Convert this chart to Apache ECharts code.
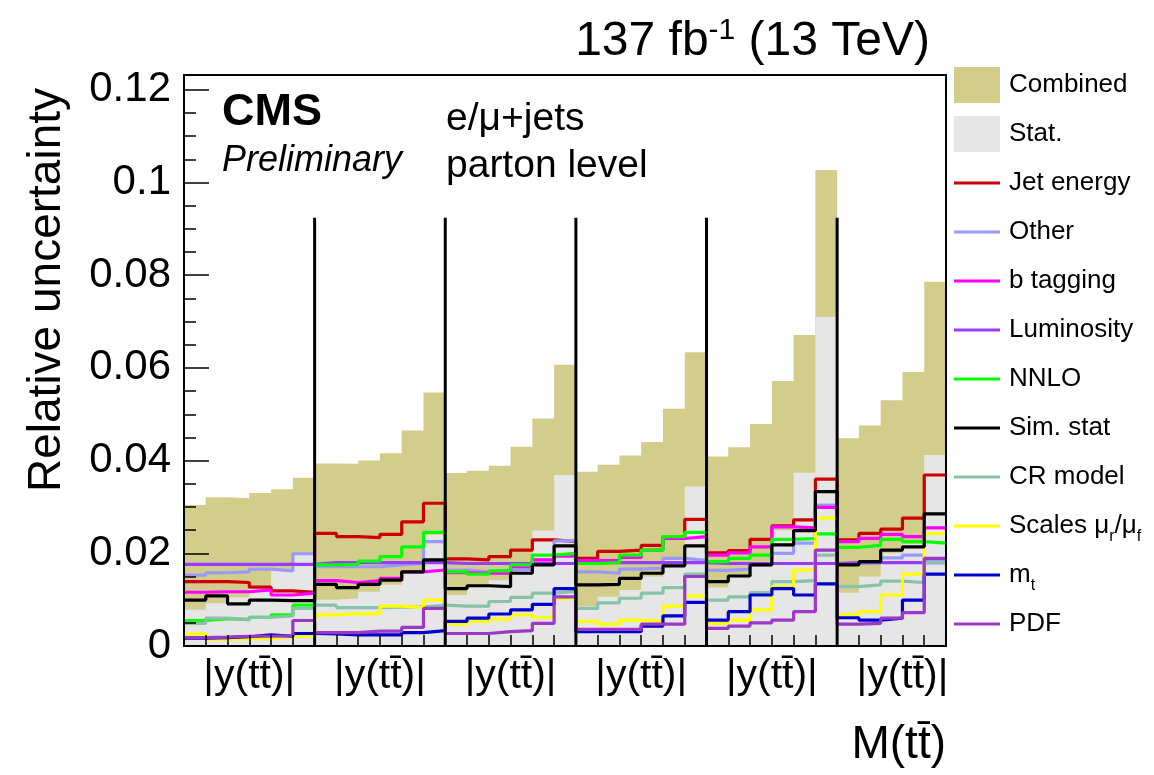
<!DOCTYPE html>
<html>
<head>
<meta charset="utf-8">
<script src="https://cdn.jsdelivr.net/npm/echarts@6/dist/echarts.min.js"></script>
<style>
  html, body { margin: 0; padding: 0; background: #fff; }
  #chart { width: 1154px; height: 775px; }
</style>
</head>
<body>
<div id="chart"></div>
<script>
// Relative uncertainty breakdown, 6 M(tt) slices x |y(tt)| bins (35 bins in total)
const panelLabel = '|y(tt\u0304)|';
const panelLabelPos = [3, 9, 15, 21, 27, 33];
const separators = [6, 12, 18, 24, 30];
const separatorTop = 0.0924;
const yMajorTicks = [0, 0.02, 0.04, 0.06, 0.08, 0.1, 0.12];
const yMinorTicks = [0.005, 0.01, 0.015, 0.025, 0.03, 0.035, 0.045, 0.05, 0.055,
  0.065, 0.07, 0.075, 0.085, 0.09, 0.095, 0.105, 0.11, 0.115];
const binEdges = [1, 2, 3, 4, 5, 7, 8, 9, 10, 11, 13, 14, 15, 16, 17, 19, 20, 21, 22, 23,
  25, 26, 27, 28, 29, 31, 32, 33, 34];

const combined = [
  0.0304, 0.0321, 0.0319, 0.0330, 0.0338, 0.0363,
  0.0394, 0.0393, 0.0400, 0.0416, 0.0465, 0.0547,
  0.0373, 0.0378, 0.0389, 0.0430, 0.0491, 0.0607,
  0.0376, 0.0391, 0.0411, 0.0440, 0.0512, 0.0634,
  0.0409, 0.0429, 0.0479, 0.0572, 0.0671, 0.1027,
  0.0448, 0.0476, 0.0530, 0.0591, 0.0786];
const stat = [
  0.0078, 0.0092, 0.0105, 0.0125, 0.0164, 0.0200,
  0.0100, 0.0103, 0.0117, 0.0132, 0.0160, 0.0240,
  0.0110, 0.0130, 0.0142, 0.0165, 0.0249, 0.0369,
  0.0086, 0.0106, 0.0121, 0.0150, 0.0190, 0.0344,
  0.0126, 0.0153, 0.0175, 0.0250, 0.0374, 0.0710,
  0.0115, 0.0150, 0.0200, 0.0220, 0.0412];
const jetEnergy = [
  0.0139, 0.0139, 0.0137, 0.0127, 0.0119, 0.0116,
  0.0243, 0.0236, 0.0234, 0.0241, 0.0268, 0.0308,
  0.0188, 0.0186, 0.0193, 0.0207, 0.0229, 0.0225,
  0.0189, 0.0204, 0.0207, 0.0217, 0.0236, 0.0273,
  0.0201, 0.0206, 0.0230, 0.0259, 0.0272, 0.0360,
  0.0229, 0.0243, 0.0252, 0.0276, 0.0369];
const other = [
  0.0153, 0.0158, 0.0160, 0.0166, 0.0162, 0.0199,
  0.0171, 0.0171, 0.0171, 0.0175, 0.0178, 0.0225,
  0.0164, 0.0160, 0.0164, 0.0165, 0.0186, 0.0227,
  0.0160, 0.0157, 0.0166, 0.0168, 0.0189, 0.0185,
  0.0163, 0.0166, 0.0175, 0.0200, 0.0222, 0.0304,
  0.0178, 0.0180, 0.0190, 0.0196, 0.0183];
const bTagging = [
  0.0116, 0.0117, 0.0117, 0.0121, 0.0110, 0.0114,
  0.0141, 0.0137, 0.0141, 0.0146, 0.0160, 0.0164,
  0.0158, 0.0157, 0.0157, 0.0171, 0.0186, 0.0194,
  0.0184, 0.0184, 0.0191, 0.0207, 0.0232, 0.0236,
  0.0196, 0.0201, 0.0214, 0.0257, 0.0255, 0.0299,
  0.0225, 0.0232, 0.0241, 0.0236, 0.0255];
const luminosity = [
  0.0176, 0.0176, 0.0176, 0.0176, 0.0176, 0.0176,
  0.0180, 0.0180, 0.0180, 0.0180, 0.0180, 0.0180,
  0.0178, 0.0178, 0.0178, 0.0178, 0.0178, 0.0178,
  0.0180, 0.0180, 0.0180, 0.0180, 0.0180, 0.0180,
  0.0178, 0.0178, 0.0178, 0.0178, 0.0178, 0.0178,
  0.0180, 0.0180, 0.0180, 0.0180, 0.0180];
const nnlo = [
  0.0055, 0.0059, 0.0057, 0.0062, 0.0067, 0.0088,
  0.0175, 0.0176, 0.0183, 0.0193, 0.0214, 0.0245,
  0.0160, 0.0155, 0.0162, 0.0175, 0.0196, 0.0200,
  0.0178, 0.0180, 0.0196, 0.0207, 0.0236, 0.0245,
  0.0182, 0.0189, 0.0196, 0.0230, 0.0232, 0.0242,
  0.0213, 0.0217, 0.0230, 0.0225, 0.0222];
const simStat = [
  0.0099, 0.0108, 0.0091, 0.0099, 0.0098, 0.0098,
  0.0133, 0.0126, 0.0133, 0.0142, 0.0160, 0.0186,
  0.0124, 0.0130, 0.0128, 0.0157, 0.0175, 0.0216,
  0.0132, 0.0133, 0.0146, 0.0157, 0.0173, 0.0216,
  0.0139, 0.0151, 0.0175, 0.0218, 0.0249, 0.0333,
  0.0175, 0.0182, 0.0207, 0.0214, 0.0285];
const crModel = [
  0.0049, 0.0060, 0.0057, 0.0062, 0.0065, 0.0081,
  0.0088, 0.0083, 0.0083, 0.0084, 0.0084, 0.0088,
  0.0086, 0.0086, 0.0096, 0.0105, 0.0114, 0.0118,
  0.0081, 0.0093, 0.0103, 0.0114, 0.0126, 0.0155,
  0.0099, 0.0106, 0.0115, 0.0139, 0.0141, 0.0196,
  0.0128, 0.0132, 0.0140, 0.0137, 0.0180];
const scales = [
  0.0026, 0.0014, 0.0016, 0.0016, 0.0020, 0.0022,
  0.0067, 0.0070, 0.0070, 0.0086, 0.0083, 0.0099,
  0.0047, 0.0053, 0.0058, 0.0067, 0.0062, 0.0102,
  0.0053, 0.0047, 0.0056, 0.0053, 0.0086, 0.0108,
  0.0049, 0.0056, 0.0078, 0.0128, 0.0164, 0.0276,
  0.0068, 0.0074, 0.0110, 0.0155, 0.0243];
const mTop = [
  0.0017, 0.0018, 0.0020, 0.0024, 0.0021, 0.0027,
  0.0026, 0.0024, 0.0024, 0.0024, 0.0029, 0.0033,
  0.0053, 0.0060, 0.0069, 0.0078, 0.0090, 0.0124,
  0.0031, 0.0031, 0.0031, 0.0043, 0.0065, 0.0094,
  0.0056, 0.0074, 0.0110, 0.0124, 0.0110, 0.0134,
  0.0061, 0.0056, 0.0060, 0.0099, 0.0155];
const pdf = [
  0.0018, 0.0019, 0.0021, 0.0021, 0.0022, 0.0055,
  0.0029, 0.0029, 0.0032, 0.0032, 0.0040, 0.0081,
  0.0027, 0.0027, 0.0031, 0.0033, 0.0049, 0.0106,
  0.0036, 0.0036, 0.0036, 0.0047, 0.0047, 0.0150,
  0.0038, 0.0043, 0.0050, 0.0056, 0.0074, 0.0207,
  0.0047, 0.0049, 0.0060, 0.0072, 0.0189];

const FONT = '"Liberation Sans", Arial, Helvetica, sans-serif';
const X_MAX = combined.length;
const Y_MAX = 0.1232;

// histogram outline: each bin value held across [i, i+1)
function steps(vals) {
  const pts = vals.map((v, i) => [i, v]);
  pts.push([vals.length, vals[vals.length - 1]]);
  return pts;
}

const filled = [
  { name: 'Combined', values: combined, color: '#d3cd8b' },
  { name: 'Stat.', values: stat, color: '#e6e6e6' }
];
const lines = [
  { name: 'Jet energy', values: jetEnergy, color: '#cc0000' },
  { name: 'Other', values: other, color: '#9999ff' },
  { name: 'b tagging', values: bTagging, color: '#ff00ff' },
  { name: 'Luminosity', values: luminosity, color: '#9a3cff' },
  { name: 'NNLO', values: nnlo, color: '#00ff00' },
  { name: 'CR model', values: crModel, color: '#88c2a8' },
  { name: 'Scales', values: scales, color: '#ffff00' },
  { name: 'mt', values: mTop, color: '#0000cc' },
  { name: 'PDF', values: pdf, color: '#9b38c8' },
  { name: 'Sim. stat', values: simStat, color: '#000000' }
];
const legendOrder = ['Combined', 'Stat.', 'Jet energy', 'Other', 'b tagging', 'Luminosity',
  'NNLO', 'Sim. stat', 'CR model', 'Scales', 'mt', 'PDF'];
const lineIcon = 'path://M0,0H46V3H0Z';

const series = [];
filled.forEach(f => series.push({
  name: f.name, type: 'line', step: 'end', data: steps(f.values),
  showSymbol: false, symbol: 'none', z: 1, silent: true,
  color: f.color,
  itemStyle: { color: f.color },
  lineStyle: { width: 0, color: f.color },
  areaStyle: { color: f.color, opacity: 1, origin: 'start' }
}));
lines.forEach(l => series.push({
  name: l.name, type: 'line', step: 'end', data: steps(l.values),
  showSymbol: false, symbol: 'none', z: 2, silent: true,
  color: l.color,
  itemStyle: { color: l.color },
  lineStyle: { width: 3.2, color: l.color }
}));
// panel separators between the M(tt) slices
series.push({
  type: 'custom', z: 4, silent: true, clip: false,
  data: separators.map(x => [x, separatorTop]),
  renderItem: (params, api) => {
    const p0 = api.coord([api.value(0), 0]);
    const p1 = api.coord([api.value(0), api.value(1)]);
    return {
      type: 'line',
      shape: { x1: p0[0], y1: p0[1], x2: p1[0], y2: p1[1] },
      style: { stroke: '#000', lineWidth: 3 }
    };
  }
});

const legendText = {
  'Scales': '{n|Scales μ}{s|r}{n|/μ}{s|f}',
  'mt': '{n|m}{s|t}'
};

const chart = echarts.init(document.getElementById('chart'), null, { renderer: 'canvas' });
chart.setOption({
  animation: false,
  backgroundColor: '#fff',
  grid: { left: 184, right: 208, top: 75, bottom: 129, containLabel: false },
  xAxis: [{
    type: 'value', min: 0, max: X_MAX, position: 'bottom', z: 10,
    axisLine: { show: true, onZero: false, lineStyle: { color: '#000', width: 2 } },
    axisTick: { show: true, inside: true, length: 11, customValues: binEdges,
      lineStyle: { color: '#000', width: 1.5 } },
    axisLabel: { show: true, customValues: panelLabelPos, formatter: () => panelLabel,
      fontFamily: FONT, fontSize: 41, color: '#000', margin: 10 },
    splitLine: { show: false }
  }, {
    type: 'value', min: 0, max: X_MAX, position: 'top', z: 10,
    axisLine: { show: true, onZero: false, lineStyle: { color: '#000', width: 2 } },
    axisTick: { show: false }, axisLabel: { show: false }, splitLine: { show: false }
  }],
  yAxis: [{
    type: 'value', min: 0, max: Y_MAX, position: 'left', z: 10,
    axisLine: { show: true, onZero: false, lineStyle: { color: '#000', width: 2 } },
    axisTick: { show: true, inside: true, length: 25, customValues: yMajorTicks,
      lineStyle: { color: '#000', width: 1.5 } },
    axisLabel: { show: true, customValues: yMajorTicks,
      formatter: v => String(+v.toFixed(3)),
      fontFamily: FONT, fontSize: 42, color: '#000', margin: 13 },
    splitLine: { show: false }
  }, {
    type: 'value', min: 0, max: Y_MAX, position: 'left', z: 10,
    axisLine: { show: false },
    axisTick: { show: true, inside: true, length: 12, customValues: yMinorTicks,
      lineStyle: { color: '#000', width: 1.5 } },
    axisLabel: { show: false }, splitLine: { show: false }
  }, {
    type: 'value', min: 0, max: Y_MAX, position: 'right', z: 10,
    axisLine: { show: true, onZero: false, lineStyle: { color: '#000', width: 2 } },
    axisTick: { show: false }, axisLabel: { show: false }, splitLine: { show: false }
  }],
  legend: {
    orient: 'vertical', left: 949, top: 61,
    itemWidth: 46, itemHeight: 36, itemGap: 11,
    selectedMode: false, symbolKeepAspect: true,
    itemStyle: { borderWidth: 0 },
    data: legendOrder.map(n => ({
      name: n,
      icon: (n === 'Combined' || n === 'Stat.') ? 'rect' : lineIcon
    })),
    formatter: n => legendText[n] || ('{n|' + n + '}'),
    textStyle: {
      fontFamily: FONT, fontSize: 26, color: '#000', lineHeight: 38,
      padding: [0, 0, 0, 4],
      rich: {
        n: { fontFamily: FONT, fontSize: 26, lineHeight: 38, color: '#000' },
        s: { fontFamily: FONT, fontSize: 16, lineHeight: 16, padding: [22, 0, 0, 0], color: '#000' }
      }
    }
  },
  graphic: [
    { type: 'text', x: 930, y: 42, silent: true,
      style: { text: '{a|137 fb}{s|-1}{a| (13 TeV)}', align: 'right', verticalAlign: 'middle',
        rich: {
          a: { fontFamily: FONT, fontSize: 48, lineHeight: 56, fill: '#000' },
          s: { fontFamily: FONT, fontSize: 30, lineHeight: 30, padding: [2, 0, 24, 0], fill: '#000' }
        } } },
    { type: 'text', x: 222, y: 113, silent: true,
      style: { text: 'CMS', fontFamily: FONT, fontWeight: 'bold', fontSize: 45, fill: '#000',
        align: 'left', verticalAlign: 'middle' } },
    { type: 'text', x: 222, y: 161, silent: true,
      style: { text: 'Preliminary', fontFamily: FONT, fontStyle: 'italic', fontSize: 36, fill: '#000',
        align: 'left', verticalAlign: 'middle' } },
    { type: 'text', x: 446, y: 119, silent: true,
      style: { text: 'e/μ+jets', fontFamily: FONT, fontSize: 39, fill: '#000',
        align: 'left', verticalAlign: 'middle' } },
    { type: 'text', x: 446, y: 166, silent: true,
      style: { text: 'parton level', fontFamily: FONT, fontSize: 39, fill: '#000',
        align: 'left', verticalAlign: 'middle' } },
    { type: 'text', x: 47, y: 290, rotation: Math.PI / 2, silent: true,
      style: { text: 'Relative uncertainty', fontFamily: FONT, fontSize: 46, fill: '#000',
        align: 'center', verticalAlign: 'middle' } },
    { type: 'text', x: 946, y: 745, silent: true,
      style: { text: 'M(tt\u0304)', fontFamily: FONT, fontSize: 46, fill: '#000',
        align: 'right', verticalAlign: 'middle' } }
  ],
  series: series
});
</script>
</body>
</html>
